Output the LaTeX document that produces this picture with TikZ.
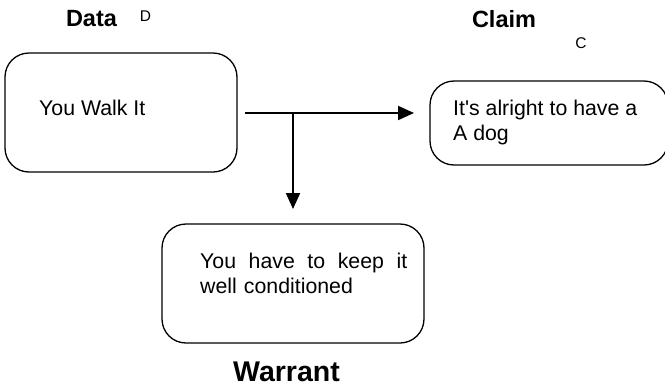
\documentclass[tikz,border=0pt]{standalone}
\usepackage{fontspec}
\setmainfont{Liberation Sans}
\usetikzlibrary{arrows.meta}
\begin{document}
\begin{tikzpicture}[x=1pt,y=-1pt,
  boxshape/.style={draw,line width=1.3pt,rounded corners=24pt},
  boxfont/.style={font=\fontsize{21.3}{25}\selectfont},
  boxtext/.style={boxfont,anchor=north west,inner sep=0pt,align=left},
  heading/.style={font=\bfseries\fontsize{23.5}{26}\selectfont,inner sep=0pt},
  tag/.style={font=\fontsize{15.5}{18}\selectfont,inner sep=0pt},
  link/.style={line width=2pt,-{Triangle[length=16pt,width=14pt]}}]
\useasboundingbox (0,0) rectangle (665,389);
% boxes
\draw[boxshape] (5,53) rectangle (237,172);
\draw[boxshape] (430,81) rectangle (668,165);
\draw[boxshape] (162,224) rectangle (424,343);
% box texts
\node[boxfont,anchor=west,inner sep=0pt] (dtext) at (39,108) {You Walk It};
\node[boxtext] (ctext) at (453,100) {It\textquotesingle s alright to have a\\A dog};
\node[boxtext,text width=207pt] (wtext) at (200,253) {You\hfill have\hfill to\hfill keep\hfill it\\well conditioned};
% headings
\node[heading] (data) at (91.5,19) {Data};
\node[tag] (dtag) at (145.5,16) {D};
\node[heading] (claim) at (504,19) {Claim};
\node[tag] (ctag) at (581,43) {C};
\node[heading,font=\bfseries\fontsize{28.5}{32}\selectfont] (warrant) at (286.5,372) {Warrant};
% connectors
\coordinate (start) at (245,113);
\coordinate (cend) at (414,113);
\coordinate (branch) at (293,113);
\coordinate (wend) at (293,209);
\draw[link] (start) -- (cend);
\draw[link] (branch) -- (wend);
\end{tikzpicture}
\end{document}
